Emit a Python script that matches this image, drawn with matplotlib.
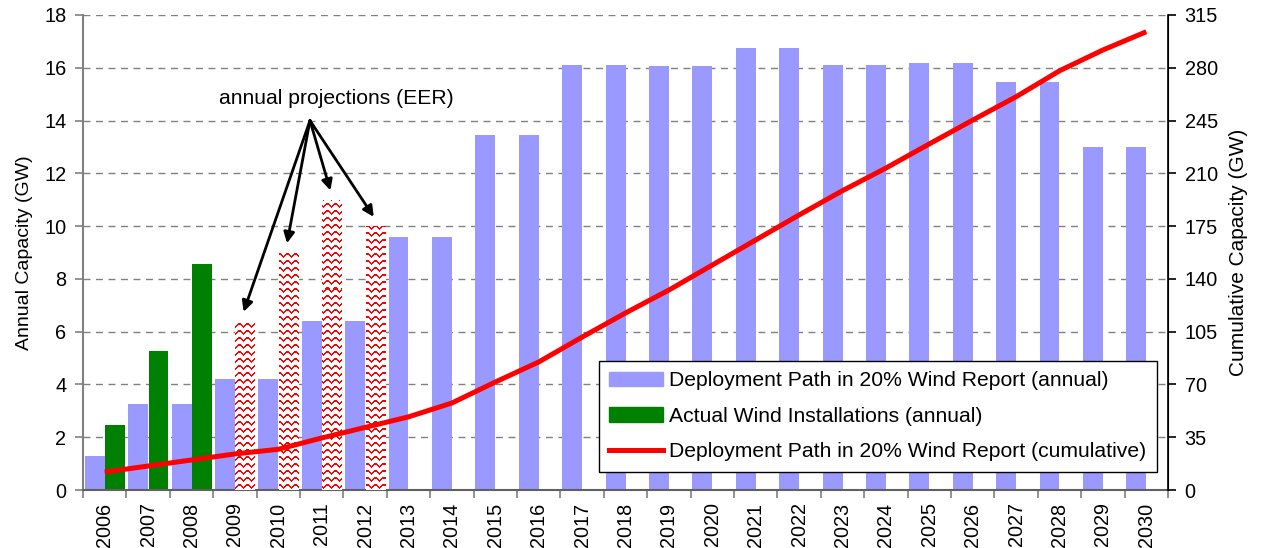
import numpy as np
import matplotlib.pyplot as plt
from matplotlib.patches import Patch
from matplotlib.lines import Line2D

plt.rcParams['font.family'] = ['Liberation Sans', 'DejaVu Sans']

years = [str(y) for y in range(2006, 2031)]
path_annual = [1.3, 3.25, 3.25, 4.2, 4.2, 6.4, 6.4, 9.6, 9.6, 13.45, 13.45,
               16.1, 16.1, 16.05, 16.05, 16.75, 16.75, 16.1, 16.1, 16.2, 16.2,
               15.45, 15.45, 13.0, 13.0]
actual_years = ['2006', '2007', '2008']
actual = [2.45, 5.25, 8.55]
eer_years = ['2009', '2010', '2011', '2012']
eer = [6.4, 9.0, 11.0, 10.0]
path_cumulative = [11.9, 15.9, 19.9, 23.9, 27.0, 34.5, 41.5, 48.5, 57.7, 71.6,
                   84.9, 101.4, 117.4, 132.6, 149.2, 165.8, 182.4, 198.5, 213.5,
                   229.5, 245.3, 260.8, 278.0, 291.8, 303.9]

blue = '#9999ff'
green = '#008000'
red = '#ff0000'
grey = '#808080'

fig = plt.figure(figsize=(12.63, 5.48), dpi=100)
ax = fig.add_axes([83 / 1263, 58 / 548, 1085 / 1263, 475 / 548])
ax2 = ax.twinx()

x = np.arange(len(years))
w = 0.46
ax.bar(x - 0.23, path_annual, w, color=blue, zorder=2)
ia = np.array([years.index(y) for y in actual_years])
ax.bar(ia + 0.24, actual, w, color=green, zorder=2)
ie = np.array([years.index(y) for y in eer_years])
eer_bars = ax.bar(ie + 0.24, eer, w, color='white', zorder=2)

# zigzag texture for the EER projection bars
H, W = 475, 1085
tex = np.ones((H, W, 3))
cols = np.arange(W)
tri = np.abs((cols % 8) - 4) * 3 // 4
for r0 in range(0, H, 7):
    for dr in (0, 1):
        rows = r0 + tri + dr
        ok = rows < H
        tex[rows[ok], cols[ok]] = (1, 0, 0)
for b in eer_bars:
    im = ax.imshow(tex, extent=(-0.5, len(years) - 0.5, 0, 18), aspect='auto',
                   interpolation='nearest', zorder=3)
    im.set_clip_path(b)
ax.set_xlim(-0.5, len(years) - 0.5)
ax.set_ylim(0, 18)
ax2.set_ylim(0, 315)

ax2.plot(x, path_cumulative, color=red, lw=3.6, solid_capstyle='butt')

# grid and axes styling
ax.set_axisbelow(True)
ax.yaxis.grid(True, color=grey, ls=(0, (5, 4)), lw=1)
ax.set_yticks(np.arange(0, 19, 2))
ax2.set_yticks(np.arange(0, 316, 35))
ax.set_xticks(np.arange(-0.5, len(years), 1))
ax.set_xticklabels([])
ax.set_xticks(x, minor=True)
ax.set_xticklabels(years, minor=True, rotation=90, fontsize=14.3)
ax.tick_params(axis='x', which='major', length=6, color=grey, width=1.2)
ax.tick_params(axis='x', which='minor', length=0, pad=9)
ax.tick_params(axis='y', length=6, color=grey, width=1.2, labelsize=14.3, pad=6)
ax2.tick_params(axis='y', length=6, color='black', width=1.2, labelsize=14.3, pad=6)

for a in (ax, ax2):
    a.spines['top'].set_visible(False)
ax.spines['left'].set_color(grey)
ax.spines['left'].set_linewidth(1.5)
ax.spines['bottom'].set_color('#606060')
ax.spines['bottom'].set_linewidth(1.5)
ax2.spines['left'].set_visible(False)
ax2.spines['bottom'].set_visible(False)
ax2.spines['right'].set_linewidth(1.2)

ax.set_ylabel('Annual Capacity (GW)', fontsize=14, labelpad=8)
ax2.set_ylabel('Cumulative Capacity (GW)', fontsize=15, labelpad=8)

# annotation arrows
src = (4.73, 14.0)
ax.text(5.33, 14.85, 'annual projections (EER)', fontsize=15.2,
        ha='center', va='center')
for i, v in zip(ie, eer):
    ax.annotate('', xy=(i + 0.2, v + 0.35), xytext=src,
                arrowprops=dict(arrowstyle='-|>', color='black', lw=2,
                                mutation_scale=16, shrinkA=0, shrinkB=0),
                zorder=5)

handles = [Patch(color=blue), Patch(color=green), Line2D([], [], color=red, lw=3.6)]
labels = ['Deployment Path in 20% Wind Report (annual)',
          'Actual Wind Installations (annual)',
          'Deployment Path in 20% Wind Report (cumulative)']
leg = ax2.legend(handles, labels, loc='lower right', bbox_to_anchor=(0.99, 0.038),
                 fontsize=15.2, frameon=True, fancybox=False, framealpha=1,
                 edgecolor='black', handlelength=2.55, handleheight=0.67,
                 labelspacing=0.78, borderpad=0.5, handletextpad=0.3,
                 borderaxespad=0)
leg.get_frame().set_linewidth(1)

fig.savefig('out.png', dpi=100)
